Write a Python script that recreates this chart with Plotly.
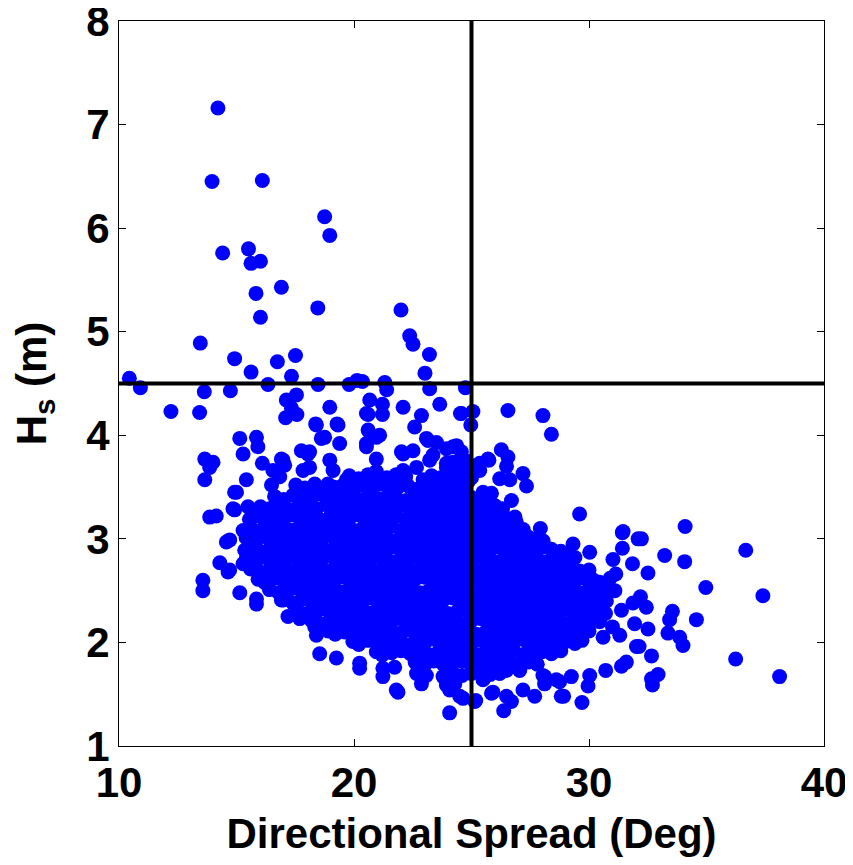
import plotly.graph_objects as go

# Thresholds drawn as reference lines
spread_threshold = 25.0
hs_threshold = 4.5

x_ticks = [10, 20, 30, 40]
y_ticks = [1, 2, 3, 4, 5, 6, 7, 8]

# Storm tail (large waves), (spread deg, Hs m)
upper_tail = [
    (14.21, 7.16), (13.96, 6.45), (16.10, 6.46), (18.75, 6.11), (18.97, 5.93),
    (14.41, 5.76), (15.51, 5.80), (15.62, 5.66), (16.02, 5.68), (16.91, 5.43),
    (15.83, 5.37), (16.02, 5.14), (18.46, 5.23), (22.00, 5.21), (22.37, 4.96),
    (22.51, 4.88), (23.21, 4.78), (13.46, 4.89), (14.92, 4.74), (16.74, 4.71),
    (17.51, 4.77), (15.62, 4.61), (17.34, 4.57), (23.02, 4.60), (10.44, 4.55),
    (10.91, 4.46), (13.63, 4.42), (14.74, 4.43), (16.34, 4.49), (18.47, 4.49),
    (19.79, 4.49), (20.13, 4.53), (20.36, 4.52), (21.31, 4.51), (21.39, 4.44),
    (23.22, 4.45), (24.74, 4.46),
]

mid_band = [
    (12.21, 4.23), (13.43, 4.22), (17.12, 4.34), (17.55, 4.39), (17.34, 4.26),
    (17.57, 4.20), (17.09, 4.17), (18.97, 4.27), (20.67, 4.34), (21.21, 4.30),
    (21.21, 4.20), (20.60, 4.20), (22.09, 4.27), (22.87, 4.19), (23.65, 4.30),
    (24.53, 4.21), (25.06, 4.23), (18.37, 4.11), (19.28, 4.11), (22.58, 4.08),
    (24.97, 4.10), (26.55, 4.24), (28.04, 4.19), (28.40, 4.01), (26.27, 3.86),
    (26.55, 3.79), (25.74, 3.76), (25.35, 3.66), (27.19, 3.63), (27.34, 3.51),
    (26.20, 3.58), (26.49, 3.70), (25.49, 3.45), (25.85, 3.44), (26.70, 3.37),
    (25.63, 3.37), (25.70, 3.77), (15.14, 3.97), (15.85, 3.98), (15.28, 3.82),
    (15.91, 3.89), (16.10, 3.73), (13.65, 3.77), (14.00, 3.74), (13.86, 3.69),
    (13.65, 3.57), (14.92, 3.45), (15.42, 3.57), (14.85, 3.29), (15.49, 3.31),
    (17.76, 3.85), (18.11, 3.84), (18.97, 3.76), (19.11, 3.66), (16.91, 3.77),
    (17.05, 3.71), (16.55, 3.66), (16.49, 3.52), (18.40, 4.10), (19.32, 4.10),
    (18.61, 3.97), (19.39, 3.92), (20.53, 4.21), (20.60, 4.05), (21.09, 4.00),
    (20.53, 3.89), (20.95, 3.77), (20.95, 3.65), (22.02, 3.84), (22.51, 3.85),
    (23.15, 3.95), (23.51, 3.93), (23.93, 3.87), (24.36, 3.90), (24.57, 4.21),
    (23.36, 3.81), (24.21, 3.74), (24.57, 3.53), (16.98, 3.76), (16.84, 3.60),
    (18.04, 3.82), (17.83, 3.66), (18.11, 3.69), (18.89, 3.53), (18.75, 3.98),
    (19.68, 3.57), (20.38, 3.53), (20.53, 3.92), (20.95, 3.98), (20.67, 3.40),
    (22.09, 3.82), (22.09, 3.66), (22.66, 3.69), (21.81, 3.57), (22.94, 3.57),
    (22.66, 3.44), (23.08, 3.97), (23.22, 3.76), (23.93, 3.69), (24.07, 3.57),
    (24.64, 3.57), (23.51, 3.40), (24.21, 3.89), (24.57, 3.84), (23.93, 3.73),
    (24.21, 3.60), (25.35, 3.73), (26.63, 3.57), (24.80, 3.75), (24.70, 3.65),
    (24.50, 3.70), (24.85, 3.55), (24.40, 3.45),
]

left_edge = [
    (13.86, 3.21), (14.14, 3.22), (14.57, 2.97), (14.29, 2.77), (14.64, 2.68),
    (13.57, 2.60), (13.57, 2.50), (15.14, 2.48), (15.85, 2.42), (15.85, 2.37),
    (15.28, 2.76), (16.27, 2.58), (16.91, 2.41), (17.19, 2.25), (18.26, 2.22),
    (18.40, 2.07), (18.54, 1.89), (19.25, 1.85), (20.24, 1.80), (20.24, 1.75),
    (14.71, 2.99), (15.28, 3.08), (14.71, 2.70), (17.69, 2.23), (18.33, 2.15),
    (15.00, 3.45), (14.92, 3.28),
]

bottom_edge = [
    (21.23, 1.75), (21.73, 1.76), (21.23, 1.67), (21.87, 1.52), (22.87, 1.60),
    (23.93, 1.59), (24.07, 1.32), (24.64, 1.46), (25.14, 1.43), (23.08, 1.68),
    (23.65, 1.88), (24.07, 1.76), (21.80, 1.54), (22.66, 1.70), (23.79, 1.67),
    (24.07, 1.54), (25.85, 1.51), (25.49, 1.64), (25.18, 1.44), (24.29, 1.60),
    (26.37, 1.34), (26.70, 1.43), (27.19, 1.54), (27.05, 1.73), (27.69, 1.48),
    (28.11, 1.67), (28.11, 1.60), (28.75, 1.62), (28.92, 1.48), (29.25, 1.67),
    (29.70, 1.42), (29.96, 1.58), (30.03, 1.68), (30.71, 1.73), (31.38, 1.77),
    (31.59, 1.81), (32.94, 1.69), (32.66, 1.65), (32.70, 1.59), (32.13, 1.96),
    (32.66, 1.87), (26.49, 1.73), (28.04, 1.68), (28.61, 1.64), (32.02, 1.96),
    (28.82, 1.48), (26.49, 1.48), (25.91, 1.52), (24.50, 1.48), (24.00, 1.60),
]

right_tail = [
    (29.60, 3.24), (27.93, 3.10), (26.34, 3.16), (26.84, 3.16), (26.20, 3.08),
    (26.70, 3.07), (31.42, 3.06), (32.23, 3.00), (34.09, 3.12), (36.67, 2.89),
    (29.32, 2.95), (30.03, 2.87), (29.11, 2.86), (31.42, 2.91), (31.02, 2.80),
    (31.85, 2.76), (32.51, 2.67), (33.22, 2.84), (34.07, 2.78), (34.97, 2.53),
    (37.40, 2.45), (31.14, 2.66), (30.74, 2.40), (32.19, 2.44), (32.44, 2.34),
    (31.87, 2.38), (33.55, 2.30), (33.43, 2.22), (34.57, 2.22), (31.38, 2.31),
    (31.94, 2.18), (32.51, 2.13), (31.31, 2.07), (33.36, 2.09), (33.86, 2.05),
    (34.00, 1.97), (36.24, 1.84), (38.11, 1.67), (31.45, 3.07), (32.09, 3.00),
    (26.49, 3.18), (26.91, 3.16), (30.90, 2.62), (31.00, 2.15), (30.60, 2.05),
    (31.10, 2.50),
]

# Dense core of the cloud
core_upper = [
    (19.80, 3.61), (20.20, 3.58), (20.60, 3.62), (21.00, 3.60), (21.40, 3.59),
    (21.80, 3.62), (22.20, 3.60), (23.30, 3.61), (23.70, 3.59), (24.60, 3.62),
    (25.00, 3.59),
    (17.52, 3.52), (17.91, 3.49), (18.33, 3.53), (18.70, 3.47), (19.12, 3.50),
    (19.49, 3.51), (19.93, 3.48), (20.31, 3.52), (20.72, 3.49), (21.10, 3.53),
    (21.52, 3.47), (21.88, 3.50), (22.31, 3.51), (22.70, 3.48), (23.12, 3.52),
    (23.49, 3.49), (23.93, 3.53), (24.30, 3.47), (24.72, 3.50),
    (16.62, 3.41), (17.01, 3.38), (17.40, 3.42), (17.79, 3.39), (18.21, 3.40),
    (18.60, 3.43), (19.02, 3.37), (19.41, 3.41), (19.80, 3.40), (20.22, 3.38),
    (20.61, 3.42), (21.00, 3.39), (21.41, 3.41), (21.79, 3.40), (22.22, 3.37),
    (22.60, 3.42), (23.01, 3.40), (23.40, 3.38), (23.82, 3.41), (24.20, 3.39),
    (24.61, 3.42), (25.00, 3.40), (25.42, 3.38),
    (16.02, 3.31), (16.40, 3.29), (16.81, 3.32), (17.20, 3.28), (17.59, 3.30),
    (18.01, 3.31), (18.40, 3.29), (18.82, 3.33), (19.20, 3.28), (19.61, 3.30),
    (20.00, 3.32), (20.39, 3.29), (20.81, 3.31), (21.20, 3.28), (21.60, 3.30),
    (22.01, 3.33), (22.40, 3.29), (22.79, 3.31), (23.21, 3.28), (23.60, 3.30),
    (24.00, 3.32), (24.41, 3.29), (24.80, 3.31), (25.19, 3.28), (25.61, 3.30),
    (26.00, 3.32), (26.32, 3.29),
    (15.55, 3.19), (15.81, 3.22), (16.20, 3.18), (16.61, 3.21), (17.00, 3.20),
    (17.39, 3.23), (17.80, 3.19), (18.21, 3.21), (18.60, 3.18), (19.00, 3.22),
    (19.41, 3.20), (19.79, 3.19), (20.20, 3.23), (20.60, 3.21), (21.01, 3.18),
    (21.40, 3.20), (21.80, 3.22), (22.19, 3.19), (22.61, 3.21), (23.00, 3.18),
    (23.40, 3.20), (23.80, 3.23), (24.21, 3.19), (24.60, 3.21), (25.00, 3.20),
    (25.41, 3.18), (25.80, 3.22), (26.20, 3.20), (26.61, 3.19), (26.85, 3.21),
    (15.60, 3.11), (16.01, 3.08), (16.40, 3.10), (16.79, 3.12), (17.20, 3.09),
    (17.61, 3.10), (18.00, 3.08), (18.40, 3.11), (18.81, 3.09), (19.20, 3.12),
    (19.60, 3.10), (20.01, 3.08), (20.40, 3.11), (20.79, 3.09), (21.20, 3.10),
    (21.61, 3.12), (22.00, 3.08), (22.40, 3.10), (22.80, 3.11), (23.19, 3.09),
    (23.60, 3.12), (24.01, 3.10), (24.40, 3.08), (24.80, 3.11), (25.20, 3.09),
    (25.61, 3.10), (26.00, 3.12), (26.40, 3.08), (26.81, 3.10), (27.20, 3.09),
]

core_middle = [
    (15.41, 3.01), (15.80, 2.98), (16.21, 3.02), (16.60, 2.99), (17.00, 3.00),
    (17.39, 3.02), (17.80, 2.98), (18.20, 3.01), (18.61, 2.99), (19.00, 3.03),
    (19.40, 3.00), (19.81, 2.98), (20.20, 3.01), (20.60, 2.99), (21.00, 3.02),
    (21.41, 3.00), (21.80, 2.98), (22.20, 3.01), (22.60, 3.03), (22.99, 2.99),
    (23.40, 3.00), (23.80, 3.02), (24.20, 2.98), (24.61, 3.01), (25.00, 2.99),
    (25.40, 3.02), (25.80, 3.00), (26.20, 2.98), (26.60, 3.01), (27.01, 2.99),
    (27.40, 3.02), (27.80, 3.00), (28.05, 2.98),
    (15.35, 2.89), (15.60, 2.91), (16.00, 2.88), (16.40, 2.90), (16.81, 2.92),
    (17.20, 2.89), (17.60, 2.90), (18.00, 2.88), (18.41, 2.91), (18.80, 2.89),
    (19.20, 2.92), (19.60, 2.90), (20.00, 2.88), (20.41, 2.91), (20.80, 2.89),
    (21.20, 2.90), (21.60, 2.92), (22.01, 2.88), (22.40, 2.90), (22.80, 2.91),
    (23.20, 2.89), (23.60, 2.92), (24.00, 2.90), (24.41, 2.88), (24.80, 2.91),
    (25.20, 2.89), (25.60, 2.90), (26.00, 2.92), (26.40, 2.88), (26.80, 2.90),
    (27.21, 2.91), (27.60, 2.89), (28.00, 2.92), (28.40, 2.90), (28.80, 2.88),
    (15.42, 2.81), (15.80, 2.78), (16.20, 2.82), (16.61, 2.79), (17.00, 2.80),
    (17.40, 2.82), (17.80, 2.78), (18.21, 2.81), (18.60, 2.79), (19.00, 2.83),
    (19.40, 2.80), (19.80, 2.78), (20.21, 2.81), (20.60, 2.79), (21.00, 2.82),
    (21.40, 2.80), (21.80, 2.78), (22.21, 2.81), (22.60, 2.83), (23.00, 2.79),
    (23.40, 2.80), (23.80, 2.82), (24.20, 2.78), (24.60, 2.81), (25.00, 2.79),
    (25.41, 2.82), (25.80, 2.80), (26.20, 2.78), (26.60, 2.81), (27.00, 2.79),
    (27.40, 2.82), (27.81, 2.80), (28.20, 2.78), (28.60, 2.81), (29.00, 2.79),
    (29.40, 2.82),
    (15.60, 2.71), (16.00, 2.68), (16.40, 2.70), (16.80, 2.72), (17.20, 2.69),
    (17.61, 2.70), (18.00, 2.68), (18.40, 2.71), (18.80, 2.69), (19.20, 2.72),
    (19.60, 2.70), (20.01, 2.68), (20.40, 2.71), (20.80, 2.69), (21.20, 2.70),
    (21.60, 2.72), (22.00, 2.68), (22.40, 2.70), (22.81, 2.71), (23.20, 2.69),
    (23.60, 2.72), (24.00, 2.70), (24.40, 2.68), (24.80, 2.71), (25.20, 2.69),
    (25.60, 2.70), (26.01, 2.72), (26.40, 2.68), (26.80, 2.70), (27.20, 2.71),
    (27.60, 2.69), (28.00, 2.72), (28.40, 2.70), (28.80, 2.68), (29.20, 2.71),
    (29.60, 2.69), (30.00, 2.70),
    (15.92, 2.61), (16.20, 2.58), (16.60, 2.62), (17.00, 2.59), (17.40, 2.60),
    (17.80, 2.62), (18.20, 2.58), (18.60, 2.61), (19.00, 2.59), (19.40, 2.63),
    (19.80, 2.60), (20.20, 2.58), (20.60, 2.61), (21.00, 2.59), (21.40, 2.62),
    (21.80, 2.60), (22.20, 2.58), (22.60, 2.61), (23.00, 2.63), (23.40, 2.59),
    (23.80, 2.60), (24.20, 2.62), (24.60, 2.58), (25.00, 2.61), (25.40, 2.59),
    (25.80, 2.62), (26.20, 2.60), (26.60, 2.58), (27.00, 2.61), (27.40, 2.59),
    (27.80, 2.62), (28.20, 2.60), (28.60, 2.58), (29.00, 2.61), (29.40, 2.59),
    (29.80, 2.62), (30.20, 2.60), (30.45, 2.58),
]

core_lower = [
    (16.40, 2.51), (16.80, 2.48), (17.20, 2.50), (17.60, 2.52), (18.00, 2.49),
    (18.40, 2.50), (18.80, 2.48), (19.20, 2.51), (19.60, 2.49), (20.00, 2.52),
    (20.40, 2.50), (20.80, 2.48), (21.20, 2.51), (21.60, 2.49), (22.00, 2.50),
    (22.40, 2.52), (22.80, 2.48), (23.20, 2.50), (23.60, 2.51), (24.00, 2.49),
    (24.40, 2.52), (24.80, 2.50), (25.20, 2.48), (25.60, 2.51), (26.00, 2.49),
    (26.40, 2.50), (26.80, 2.52), (27.20, 2.48), (27.60, 2.50), (28.00, 2.51),
    (28.40, 2.49), (28.80, 2.52), (29.20, 2.50), (29.60, 2.48), (30.00, 2.51),
    (30.40, 2.49), (30.65, 2.51),
    (17.00, 2.41), (17.40, 2.38), (17.80, 2.42), (18.20, 2.39), (18.60, 2.40),
    (19.00, 2.42), (19.40, 2.38), (19.80, 2.41), (20.20, 2.39), (20.60, 2.43),
    (21.00, 2.40), (21.40, 2.38), (21.80, 2.41), (22.20, 2.39), (22.60, 2.42),
    (23.00, 2.40), (23.40, 2.38), (23.80, 2.41), (24.20, 2.43), (24.60, 2.39),
    (25.00, 2.40), (25.40, 2.42), (25.80, 2.38), (26.20, 2.41), (26.60, 2.39),
    (27.00, 2.42), (27.40, 2.40), (27.80, 2.38), (28.20, 2.41), (28.60, 2.39),
    (29.00, 2.42), (29.40, 2.40), (29.80, 2.38), (30.20, 2.41), (30.60, 2.39),
    (17.60, 2.31), (18.00, 2.28), (18.40, 2.30), (18.80, 2.32), (19.20, 2.29),
    (19.60, 2.30), (20.00, 2.28), (20.40, 2.31), (20.80, 2.29), (21.20, 2.32),
    (21.60, 2.30), (22.00, 2.28), (22.40, 2.31), (22.80, 2.29), (23.20, 2.30),
    (23.60, 2.32), (24.00, 2.28), (24.40, 2.30), (24.80, 2.31), (25.20, 2.29),
    (25.60, 2.32), (26.00, 2.30), (26.40, 2.28), (26.80, 2.31), (27.20, 2.29),
    (27.60, 2.30), (28.00, 2.32), (28.40, 2.28), (28.80, 2.30), (29.20, 2.31),
    (29.60, 2.29), (30.00, 2.32), (30.40, 2.30), (30.70, 2.28),
    (18.20, 2.21), (18.60, 2.18), (19.00, 2.22), (19.40, 2.19), (19.80, 2.20),
    (20.20, 2.22), (20.60, 2.18), (21.00, 2.21), (21.40, 2.19), (21.80, 2.23),
    (22.20, 2.20), (22.60, 2.18), (23.00, 2.21), (23.40, 2.19), (23.80, 2.22),
    (24.20, 2.20), (24.60, 2.18), (25.00, 2.21), (25.40, 2.23), (25.80, 2.19),
    (26.20, 2.20), (26.60, 2.22), (27.00, 2.18), (27.40, 2.21), (27.80, 2.19),
    (28.20, 2.22), (28.60, 2.20), (29.00, 2.18), (29.40, 2.21), (29.80, 2.19),
    (30.20, 2.22), (30.45, 2.20),
    (18.90, 2.11), (19.20, 2.08), (19.60, 2.10), (20.00, 2.12), (20.40, 2.09),
    (20.80, 2.10), (21.20, 2.08), (21.60, 2.11), (22.00, 2.09), (22.40, 2.12),
    (22.80, 2.10), (23.20, 2.08), (23.60, 2.11), (24.00, 2.09), (24.40, 2.10),
    (24.80, 2.12), (25.20, 2.08), (25.60, 2.10), (26.00, 2.11), (26.40, 2.09),
    (26.80, 2.12), (27.20, 2.10), (27.60, 2.08), (28.00, 2.11), (28.40, 2.09),
    (28.80, 2.10), (29.20, 2.12), (29.60, 2.08), (30.00, 2.11),
    (19.95, 2.01), (20.20, 1.98), (20.60, 2.02), (21.00, 1.99), (21.40, 2.00),
    (21.80, 2.02), (22.20, 1.98), (22.60, 2.01), (23.00, 1.99), (23.40, 2.03),
    (23.80, 2.00), (24.20, 1.98), (24.60, 2.01), (25.00, 1.99), (25.40, 2.02),
    (25.80, 2.00), (26.20, 1.98), (26.60, 2.01), (27.00, 2.03), (27.40, 1.99),
    (27.80, 2.00), (28.20, 2.02), (28.60, 1.98), (29.00, 2.01), (29.40, 1.99),
    (29.70, 2.02),
    (20.95, 1.91), (21.20, 1.88), (21.60, 1.90), (22.00, 1.92), (22.40, 1.89),
    (22.80, 1.90), (23.20, 1.88), (23.60, 1.91), (24.00, 1.89), (24.40, 1.92),
    (24.80, 1.90), (25.20, 1.88), (25.60, 1.91), (26.00, 1.89), (26.40, 1.90),
    (26.80, 1.92), (27.20, 1.88), (27.60, 1.90), (28.00, 1.91), (28.40, 1.89),
    (28.80, 1.92),
    (22.60, 1.81), (23.00, 1.78), (23.40, 1.82), (23.80, 1.79), (24.20, 1.80),
    (24.60, 1.82), (25.00, 1.78), (25.40, 1.81), (25.80, 1.79), (26.20, 1.80),
    (26.60, 1.82), (27.00, 1.78), (27.40, 1.81), (27.80, 1.79),
    (24.20, 1.71), (24.60, 1.68), (25.00, 1.70), (25.40, 1.72), (25.80, 1.69),
    (26.20, 1.70),
]

groups = [upper_tail, mid_band, left_edge, bottom_edge, right_tail,
          core_upper, core_middle, core_lower]
spread = [p[0] for g in groups for p in g]
hs = [p[1] for g in groups for p in g]

fig = go.Figure()

fig.add_trace(go.Scatter(
    x=spread, y=hs, mode='markers',
    marker=dict(color='#0000ff', size=15, line=dict(width=0)),
    showlegend=False, hoverinfo='x+y'
))

# Reference lines on top of the cloud
fig.add_trace(go.Scatter(
    x=[spread_threshold, spread_threshold], y=[y_ticks[0], y_ticks[-1]],
    mode='lines', line=dict(color='black', width=4), showlegend=False
))
fig.add_trace(go.Scatter(
    x=[x_ticks[0], x_ticks[-1]], y=[hs_threshold, hs_threshold],
    mode='lines', line=dict(color='black', width=4), showlegend=False
))

font_family = 'Liberation Sans, Arial, Helvetica, sans-serif'

# page body adds an 8px margin, so the figure is sized to fit inside it
fig.update_layout(
    width=845, height=849,
    margin=dict(l=111, r=29, t=13, b=111),
    plot_bgcolor='white', paper_bgcolor='white',
    font=dict(family=font_family, color='black'),
    xaxis=dict(
        range=[x_ticks[0], x_ticks[-1]], tickvals=x_ticks,
        ticks='inside', ticklen=7, tickwidth=1, tickcolor='black',
        showline=True, linecolor='black', linewidth=1, mirror='ticks',
        showgrid=False, zeroline=False, ticklabeloverflow='allow',
        automargin=False,
        tickfont=dict(size=42, weight='bold'),
        title=dict(text='Directional Spread (Deg)',
                   font=dict(size=42, weight='bold'), standoff=17),
    ),
    yaxis=dict(
        range=[y_ticks[0], y_ticks[-1]], tickvals=y_ticks,
        ticks='inside', ticklen=7, tickwidth=1, tickcolor='black',
        showline=True, linecolor='black', linewidth=1, mirror='ticks',
        showgrid=False, zeroline=False, ticklabeloverflow='allow',
        automargin=False,
        tickfont=dict(size=42, weight='bold'),
        title=dict(text='H<sub>s</sub> (m)',
                   font=dict(size=42, weight='bold'), standoff=28),
    ),
)

fig.write_html('out.html')
